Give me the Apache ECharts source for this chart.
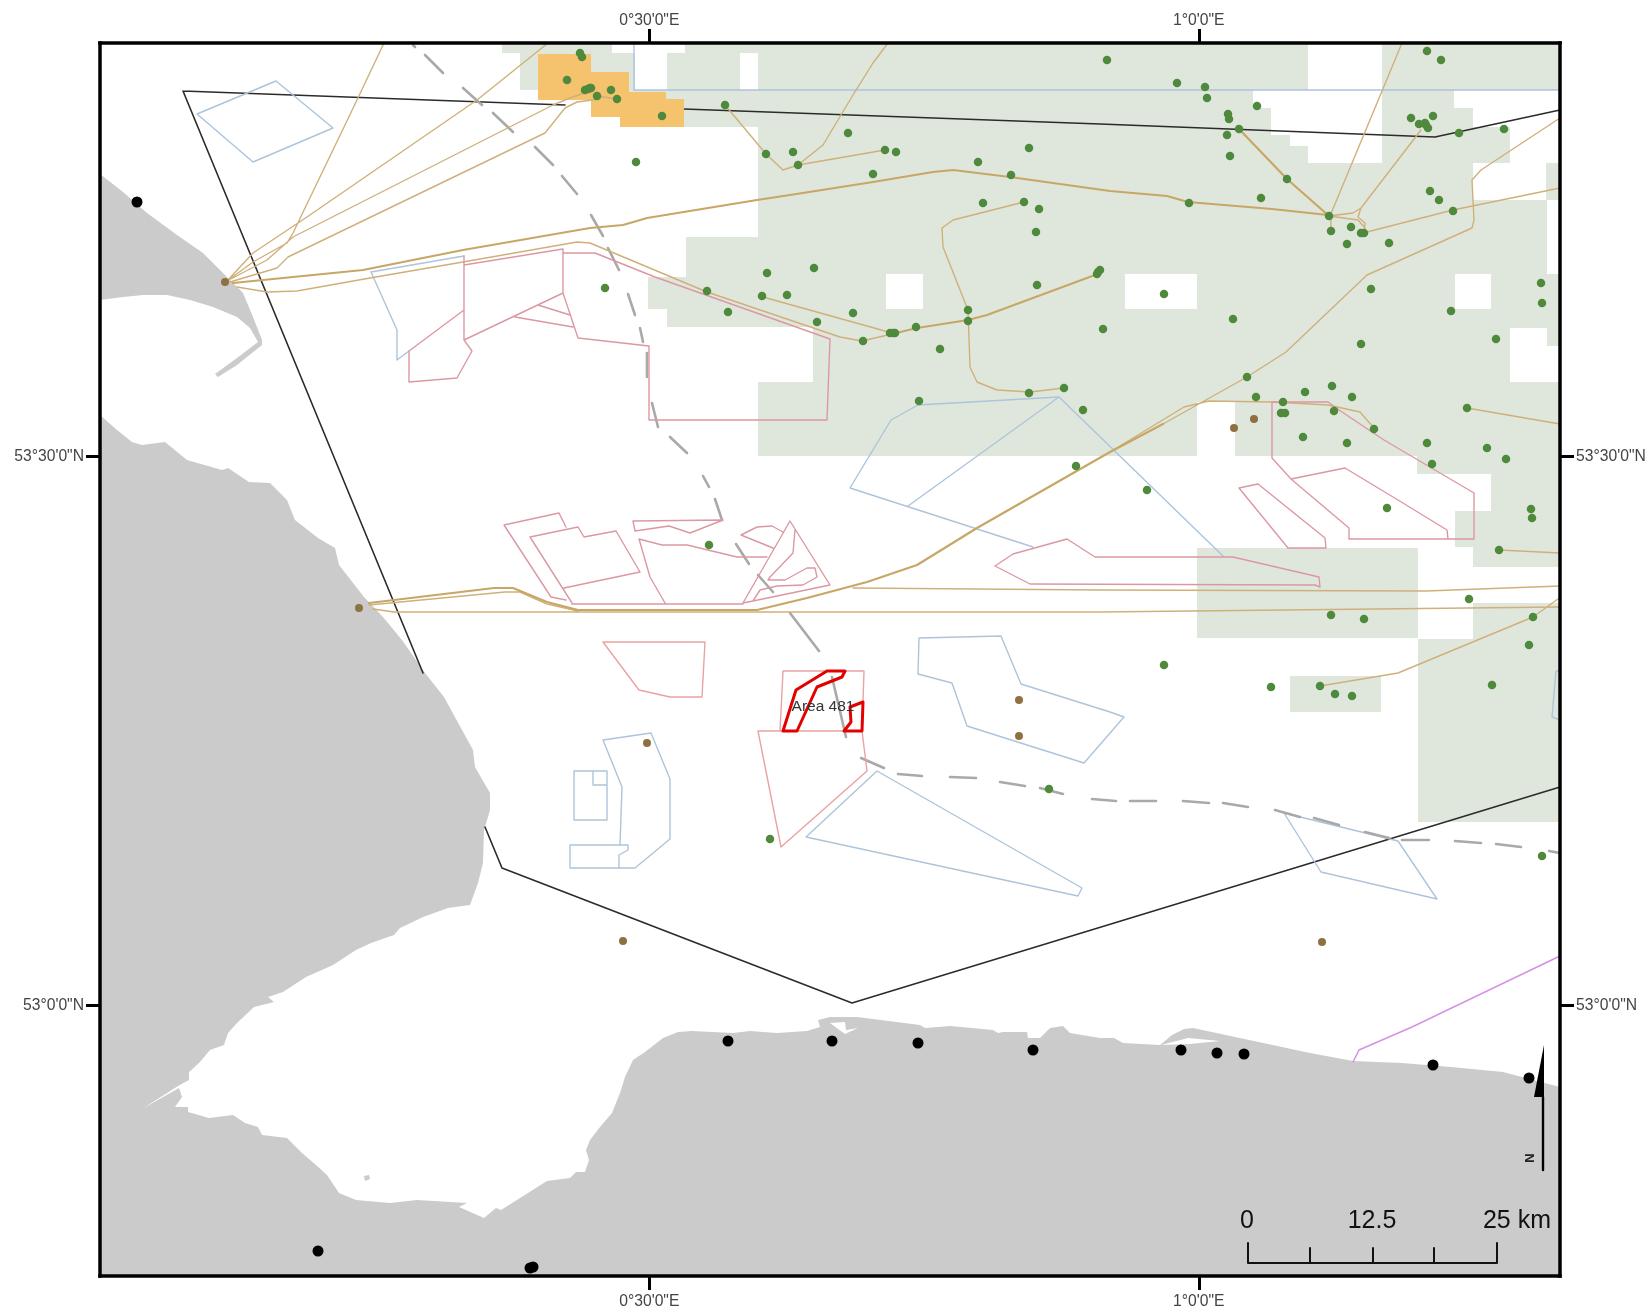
<!DOCTYPE html>
<html><head><meta charset="utf-8">
<style>html,body{margin:0;padding:0;background:#fff}#c{width:1649px;height:1312px}</style>
<script src="https://cdn.jsdelivr.net/npm/echarts@6/dist/echarts.min.js"></script>
</head><body><div id="c"></div>
<script>
const xTickValues=[0.5,1];
const xTickLabels=['0°30\'0"E','1°0\'0"E'];
const yTickValues=[53,53.5];
const yTickLabels=['53°0\'0"N','53°30\'0"N'];
const sheetLeft=100, sheetRight=1560, sheetTop=43, sheetBottom=1276;

const landWest=[[100,174],[123,192],[147,213],[177,235],[203,253],[223,273],[243,293],[253,317],[262,340],[262,345],[237,365],[218,377],[215,374],[237,358],[258,342],[250,328],[237,317],[213,307],[190,300],[167,295],[143,295],[123,297],[100,300]];
const landMain=[[100,415],[117,430],[132,442],[142,445],[165,442],[187,460],[222,470],[228,468],[249,482],[270,483],[287,500],[295,520],[318,538],[335,548],[339,565],[364,597],[383,617],[402,640],[425,673],[444,697],[473,750],[475,767],[490,793],[490,810],[484,830],[483,863],[478,883],[470,905],[448,908],[423,917],[400,928],[394,935],[371,943],[356,950],[333,965],[306,977],[283,992],[268,997],[274,1002],[254,1007],[237,1023],[228,1033],[224,1045],[210,1050],[199,1063],[189,1072],[189,1080],[178,1086],[142,1109],[179,1088],[182,1097],[175,1107],[188,1107],[188,1112],[209,1118],[233,1115],[245,1123],[258,1127],[262,1135],[287,1138],[302,1153],[316,1165],[327,1175],[339,1193],[356,1200],[390,1203],[417,1200],[467,1203],[459,1207],[484,1218],[496,1208],[501,1210],[547,1181],[570,1178],[576,1172],[585,1172],[589,1160],[586,1150],[590,1140],[600,1127],[612,1113],[620,1093],[625,1077],[633,1060],[645,1052],[663,1038],[678,1032],[692,1031],[733,1033],[750,1031],[777,1033],[807,1031],[820,1027],[818,1020],[830,1017],[857,1017],[920,1025],[925,1028],[950,1026],[993,1030],[998,1033],[1003,1032],[1027,1032],[1028,1038],[1040,1038],[1050,1028],[1063,1026],[1070,1033],[1100,1038],[1114,1038],[1123,1043],[1160,1045],[1172,1035],[1184,1029],[1193,1028],[1310,1053],[1353,1061],[1402,1063],[1451,1067],[1503,1072],[1560,1087],[1560,1276],[100,1276]];
const landIslet=[[364,1176],[369,1175],[370,1179],[365,1181]];
const inlets=[[[830,1023],[845,1022],[846,1030],[858,1028],[845,1034],[838,1029]],[[1161,1045],[1188,1038],[1220,1041],[1190,1044]]];

const licenceBlocks=[[502,43,612,53],[520,53,635,90],[620,90,770,127],[685,43,770,53],[667,53,770,90],[758,43,1560,456],[686,237,770,277],[648,277,770,309],[667,309,770,327],[1417,450,1491,474],[1491,450,1560,547],[1455,511,1495,547],[1473,547,1560,567],[1197,548,1418,638],[1473,603,1560,639],[1418,639,1560,822],[1290,676,1381,712]];
const blockGaps=[[1308,43,1382,90],[1253,90,1382,108],[1271,108,1382,135],[1290,135,1382,146],[1308,146,1382,163],[1454,90,1560,108],[1473,108,1560,127],[1510,127,1560,163],[1473,163,1546,200],[1547,200,1560,274],[1455,274,1491,309],[1125,274,1197,309],[886,274,923,309],[1510,328,1547,382],[1547,346,1560,382],[758,327,813,382],[1197,402,1235,456],[740,53,758,90]];
const orangeBlocks=[[538,54,591,100],[591,72,629,117],[620,92,666,127],[666,99,684,127]];

const studyBoundary=[[[183,91],[565,105]],[[684,109],[1100,124],[1435,137],[1560,110]],[[183,91],[423,673]],[[485,827],[502,868],[852,1003],[1560,787]]];
const blueAreas=[
[[197,114],[276,81],[333,128],[253,162],[197,114]],
[[464,256],[371,272],[397,330],[397,360],[409,351]],
[[634,43],[634,90],[1560,90]],
[[908,506],[1059,397]],
[[1224,557],[1059,397],[918,405],[891,420],[850,488],[1033,547]],
[[919,638],[1001,636],[1021,684],[1110,712],[1124,717],[1084,763],[967,726],[952,683],[918,674],[919,638]],
[[603,740],[651,733],[670,779],[670,839],[635,868],[570,868],[570,845],[620,845],[622,787],[603,740]],
[[620,845],[628,845],[628,850],[619,855],[619,868]],
[[574,771],[574,820],[607,820],[607,771],[574,771]],
[[593,771],[593,785],[607,785]],
[[877,771],[806,837],[1078,896],[1082,888],[877,771]],
[[1284,813],[1398,841],[1437,899],[1321,872],[1284,813]],
[[1560,671],[1556,671],[1552,717],[1560,720]]];
const pinkAreas=[
[[464,256],[464,340],[472,351],[457,378],[409,382],[409,351],[464,310]],
[[464,265],[563,249],[563,293],[464,340]],
[[563,249],[563,293],[578,338],[649,346],[649,420],[827,420],[830,339],[655,277],[595,253],[563,253]],
[[538,305],[570,315]],[[515,317],[573,327]],
[[551,597],[504,525],[559,513],[566,527]],[[551,597],[566,600]],
[[572,603],[530,537],[578,527],[584,537],[616,531],[640,572],[564,588]],
[[572,604],[743,604]],
[[665,603],[650,577],[639,539],[662,545],[687,545],[737,557],[767,557]],
[[633,521],[723,520],[690,533],[669,526],[635,531],[633,521]],
[[783,532],[772,526],[757,527],[741,535],[773,548]],
[[743,603],[790,521],[830,585],[753,601],[743,603]],
[[795,530],[793,553],[770,577],[768,580],[785,580],[807,568],[815,568],[817,577],[803,585],[777,586],[760,590],[753,601]],
[[995,566],[1013,554],[1067,539],[1095,557],[1233,557],[1319,577],[1320,587],[1315,585],[1030,584],[995,566]],
[[1272,402],[1328,402],[1342,412],[1384,440],[1474,493],[1474,539],[1349,539],[1349,528],[1291,479],[1272,458],[1272,402]],
[[1291,479],[1345,468],[1398,500],[1447,530],[1448,539]],
[[1239,488],[1258,484],[1325,538],[1326,548],[1288,548],[1239,488]]];
const salmonAreas=[
[[603,642],[705,642],[702,697],[670,697],[639,690],[603,642]],
[[783,671],[864,671],[862,731],[780,731],[783,671]],
[[758,731],[862,731],[867,771],[781,847],[758,731]]];
const area481=[
[[796,690],[827,671],[845,671],[842,677],[817,687],[797,731],[783,731],[796,690]],
[[850,707],[863,702],[862,731],[844,731],[851,722],[850,707]]];
const medianDashes=[[[413,45],[415,47]],[[425,55],[443,73]],[[463,88],[482,105]],[[493,113],[513,132]],[[535,147],[553,165]],[[562,176],[577,194]],[[591,215],[603,236]],[[608,248],[619,270]],[[628,294],[635,315]],[[640,328],[643,342]],[[647,353],[647,377]],[[652,403],[658,427]],[[670,437],[687,453]],[[703,476],[709,487]],[[715,499],[722,520]],[[736,544],[749,564]],[[758,575],[773,592]],[[790,613],[819,651]],[[832,677],[846,737]],[[861,758],[884,768]],[[898,774],[922,776]],[[950,777],[976,778]],[[1000,782],[1025,786]],[[1040,788],[1063,794]],[[1092,799],[1116,801]],[[1130,801],[1156,801]],[[1183,801],[1209,803]],[[1223,803],[1248,807]],[[1275,810],[1300,817]],[[1314,818],[1339,825]],[[1365,832],[1389,838]],[[1402,840],[1429,840]],[[1455,841],[1481,843]],[[1496,844],[1521,847]],[[1549,851],[1560,853]]];
const pipelinesThin=[
[[384,43],[357,100],[293,233],[287,243],[253,262],[227,281]],
[[548,43],[477,100],[307,217],[253,253],[227,281]],
[[587,92],[570,98],[553,105],[293,237],[267,260],[227,281]],
[[600,99],[577,102],[565,108],[545,133],[288,257],[277,268],[230,282]],
[[237,287],[267,292],[297,291],[370,278],[463,262],[577,242],[590,243],[707,292],[840,337],[862,341],[892,334]],
[[763,297],[892,333]],
[[725,105],[766,154],[783,170],[798,165],[823,145],[853,95],[873,63],[888,43]],
[[798,165],[885,150]],
[[1024,202],[953,220],[942,228],[943,247],[968,310],[970,367],[977,382],[997,390],[1030,392],[1064,388]],
[[1330,216],[1402,43]],
[[1329,216],[1353,213],[1361,208],[1421,130]],
[[1361,208],[1358,217],[1365,223],[1364,233]],
[[1329,216],[1358,220],[1365,228]],
[[1331,218],[1331,230]],
[[1363,233],[1453,210],[1560,188]],
[[1163,424],[1247,377],[1286,352],[1367,275],[1472,228],[1474,220],[1472,180],[1481,170],[1560,118]],
[[1110,452],[1184,407],[1209,401],[1272,402],[1328,405],[1360,412],[1374,428]],
[[369,605],[505,592],[520,592],[547,604],[578,611]],
[[373,609],[394,612],[1100,612],[1560,607]],
[[853,588],[1100,590],[1426,591],[1560,586]],
[[1320,686],[1398,673],[1533,617],[1558,599]],
[[1499,550],[1560,553]],
[[1467,408],[1560,424]],
[[597,96],[617,99]]];
const pipelinesThick=[
[[233,283],[363,270],[463,250],[590,228],[623,225],[647,218],[757,200],[790,195],[873,182],[933,172],[953,170],[1010,177],[1110,191],[1167,196],[1188,202],[1272,209],[1328,215]],
[[369,603],[494,588],[513,588],[547,602],[578,610],[757,610],[807,598],[867,582],[917,565],[930,557],[977,528],[1110,452],[1163,424]],
[[1239,129],[1287,179],[1329,216]],
[[892,334],[917,328],[968,320],[987,315],[1095,275]]];
const cable=[[[1353,1062],[1359,1050],[1412,1027],[1560,956]]];

const wellsGreen=[[725,105],[766,154],[793,152],[798,165],[848,133],[885,150],[896,152],[873,174],[978,162],[1011,175],[1029,148],[983,203],[1024,202],[1039,209],[1036,232],[636,162],[662,116],[611,90],[597,96],[617,99],[591,88],[1107,60],[767,273],[814,268],[605,288],[707,291],[728,312],[762,296],[787,295],[853,313],[817,322],[863,341],[890,333],[893,333],[895,333],[916,327],[968,310],[968,321],[1037,285],[1097,274],[1098,272],[1100,270],[1103,329],[940,349],[919,401],[1029,393],[1064,388],[1083,410],[580,53],[582,57],[567,80],[585,90],[588,89],[590,88],[1177,83],[1205,87],[1207,98],[1257,106],[1228,114],[1229,119],[1239,129],[1227,135],[1230,156],[1287,179],[1261,198],[1189,203],[1427,51],[1441,60],[1411,118],[1419,124],[1425,123],[1428,128],[1433,116],[1426,125],[1459,133],[1504,129],[1329,216],[1331,231],[1351,227],[1361,233],[1364,233],[1347,244],[1389,243],[1430,191],[1439,200],[1453,211],[1371,289],[1164,294],[1233,319],[1451,311],[1541,283],[1542,303],[1496,339],[1361,344],[1247,377],[1256,397],[1305,392],[1332,386],[1352,397],[1283,402],[1281,413],[1285,413],[1334,411],[1374,429],[1303,437],[1347,443],[1427,443],[1467,408],[1487,448],[1506,459],[1432,464],[1531,509],[1532,518],[1499,550],[1387,508],[1147,490],[1469,599],[1533,617],[1331,615],[1364,619],[1529,645],[1164,665],[1271,687],[1320,686],[1335,694],[1352,696],[1492,685],[1542,856],[709,545],[1076,466],[770,839],[1049,789]];
const wellsBrown=[[225,282],[359,608],[647,743],[1019,700],[1019,736],[623,941],[1322,942],[1234,428],[1254,419]];
const townsBlack=[[137,202],[318,1251],[530,1268],[533,1267],[728,1041],[832,1041],[918,1043],[1033,1050],[1181,1050],[1217,1053],[1244,1054],[1433,1065],[1529,1078]];

const scaleBar=[[[1248,1243],[1248,1263],[1497,1263],[1497,1243]],[[1310,1248],[1310,1263]],[[1373,1248],[1373,1263]],[[1434,1248],[1434,1263]]];
const scaleLabels=['0','12.5','25 km'];
const scaleLabelAt=[[1247,1221],[1372,1221],[1517,1221]];
const northShaft=[[[1543,1170],[1543,1097]]];
const northHead=[[[1544,1045],[1544,1097],[1534,1097]]];
const areaLabel='Area 481', areaLabelAt=[823,707];
const northLabel='N', northLabelAt=[1530,1158];

const lon=x=>0.5+(x-649.3)/1099;
const lat=y=>53.5-(y-456.7)/1097;
const geo=p=>[lon(p[0]),lat(p[1])];
const FONT='"Liberation Sans",Arial,sans-serif';

function rectToPoly(r){return [[r[0],r[1]],[r[2],r[1]],[r[2],r[3]],[r[0],r[3]]];}
function fillSeries(name,polys,fill,z){
  const gp=polys.map(p=>p.map(geo));
  return {type:'custom',name,z,silent:true,clip:true,animation:false,
    data:gp.map(p=>p[0]),encode:{x:0,y:1},
    renderItem:(params,api)=>({type:'polygon',
      shape:{points:gp[params.dataIndex].map(q=>api.coord(q))},
      style:{fill,stroke:null}})};
}
function lineSeries(name,lines,color,width,z){
  const data=[];
  lines.forEach(l=>{l.forEach(p=>data.push(geo(p)));data.push(['-','-']);});
  return {type:'line',name,z,silent:true,animation:false,showSymbol:false,symbol:'none',
    connectNulls:false,clip:true,data,
    lineStyle:{color,width,join:'round',cap:'round'}};
}
function dotSeries(name,pts,color,size,z){
  return {type:'scatter',name,z,silent:true,animation:false,symbol:'circle',symbolSize:size,
    data:pts.map(geo),itemStyle:{color,opacity:1}};
}
function textSeries(name,texts,at,font,fill,z,rotation){
  const g=at.map(geo);
  return {type:'custom',name,z,silent:true,animation:false,data:g,encode:{x:0,y:1},
    renderItem:(params,api)=>{
      const c=api.coord(g[params.dataIndex]);
      return {type:'text',x:c[0],y:c[1],rotation:rotation||0,
        style:{text:texts[params.dataIndex],font,fill,textAlign:'center',textVerticalAlign:'middle'}};
    }};
}
const axisBase=(min,max,values,labels,pos,margin)=>({
  type:'value',position:pos,min,max,z:50,
  splitLine:{show:false},
  axisLine:{show:true,onZero:false,lineStyle:{color:'#000',width:3.5,cap:'square'}},
  axisTick:{show:true,length:14,customValues:values,lineStyle:{color:'#000',width:3}},
  axisLabel:{show:true,customValues:values,margin,color:'#444',fontSize:15.7,fontFamily:FONT,
    formatter:v=>labels[values.indexOf(v)]||''}
});
const xMin=lon(sheetLeft),xMax=lon(sheetRight),yMin=lat(sheetBottom),yMax=lat(sheetTop);

const chart=echarts.init(document.getElementById('c'),null,{renderer:'canvas',width:1649,height:1312});
chart.setOption({
  backgroundColor:'#fff',animation:false,
  tooltip:{show:false},legend:{show:false},
  grid:{left:sheetLeft,right:1649-sheetRight,top:sheetTop,bottom:1312-sheetBottom,containLabel:false},
  xAxis:[axisBase(xMin,xMax,xTickValues,xTickLabels,'bottom',18),axisBase(xMin,xMax,xTickValues,xTickLabels,'top',14)],
  yAxis:[axisBase(yMin,yMax,yTickValues,yTickLabels,'left',16),axisBase(yMin,yMax,yTickValues,yTickLabels,'right',16)],
  series:[
    fillSeries('Land',[landWest,landMain,landIslet],'#cbcbcb',1),
    fillSeries('Inlets',inlets,'#ffffff',1.5),
    fillSeries('Licence blocks',licenceBlocks.map(rectToPoly),'#dfe7dc',2),
    fillSeries('Block gaps',blockGaps.map(rectToPoly),'#ffffff',3),
    lineSeries('Study boundary',studyBoundary,'#2b2b2b',1.6,4),
    fillSeries('Orange blocks',orangeBlocks.map(rectToPoly),'#f5c26e',5),
    lineSeries('Blue areas',blueAreas,'#adc4da',1.4,6),
    lineSeries('Median line',medianDashes,'#a9a9a9',2.6,6.5),
    lineSeries('Pipelines',pipelinesThin,'#cfb07a',1.4,7),
    lineSeries('Main pipelines',pipelinesThick,'#c8a766',2.2,7.2),
    lineSeries('Pink areas',pinkAreas,'#dc98a2',1.4,7.5),
    lineSeries('Salmon areas',salmonAreas,'#e9a2a2',1.4,7.6),
    lineSeries('Cable',cable,'#d692e6',1.6,7.7),
    lineSeries('Area 481',area481,'#e30000',3,9),
    dotSeries('Wells',wellsGreen,'#4f8a3c',8.5,10),
    dotSeries('Brown wells',wellsBrown,'#8f7040',8,10),
    dotSeries('Towns',townsBlack,'#000',11,10),
    textSeries('Area label',[areaLabel],[areaLabelAt],'15.5px '+FONT,'#333',12),
    lineSeries('Scale bar',scaleBar,'#111',2,13),
    textSeries('Scale labels',scaleLabels,scaleLabelAt,'25px '+FONT,'#111',13),
    lineSeries('North shaft',northShaft,'#000',2.4,13),
    fillSeries('North head',northHead,'#000',13),
    textSeries('North label',[northLabel],[northLabelAt],'bold 13px '+FONT,'#222',13,Math.PI/2)
  ]
});
</script></body></html>
